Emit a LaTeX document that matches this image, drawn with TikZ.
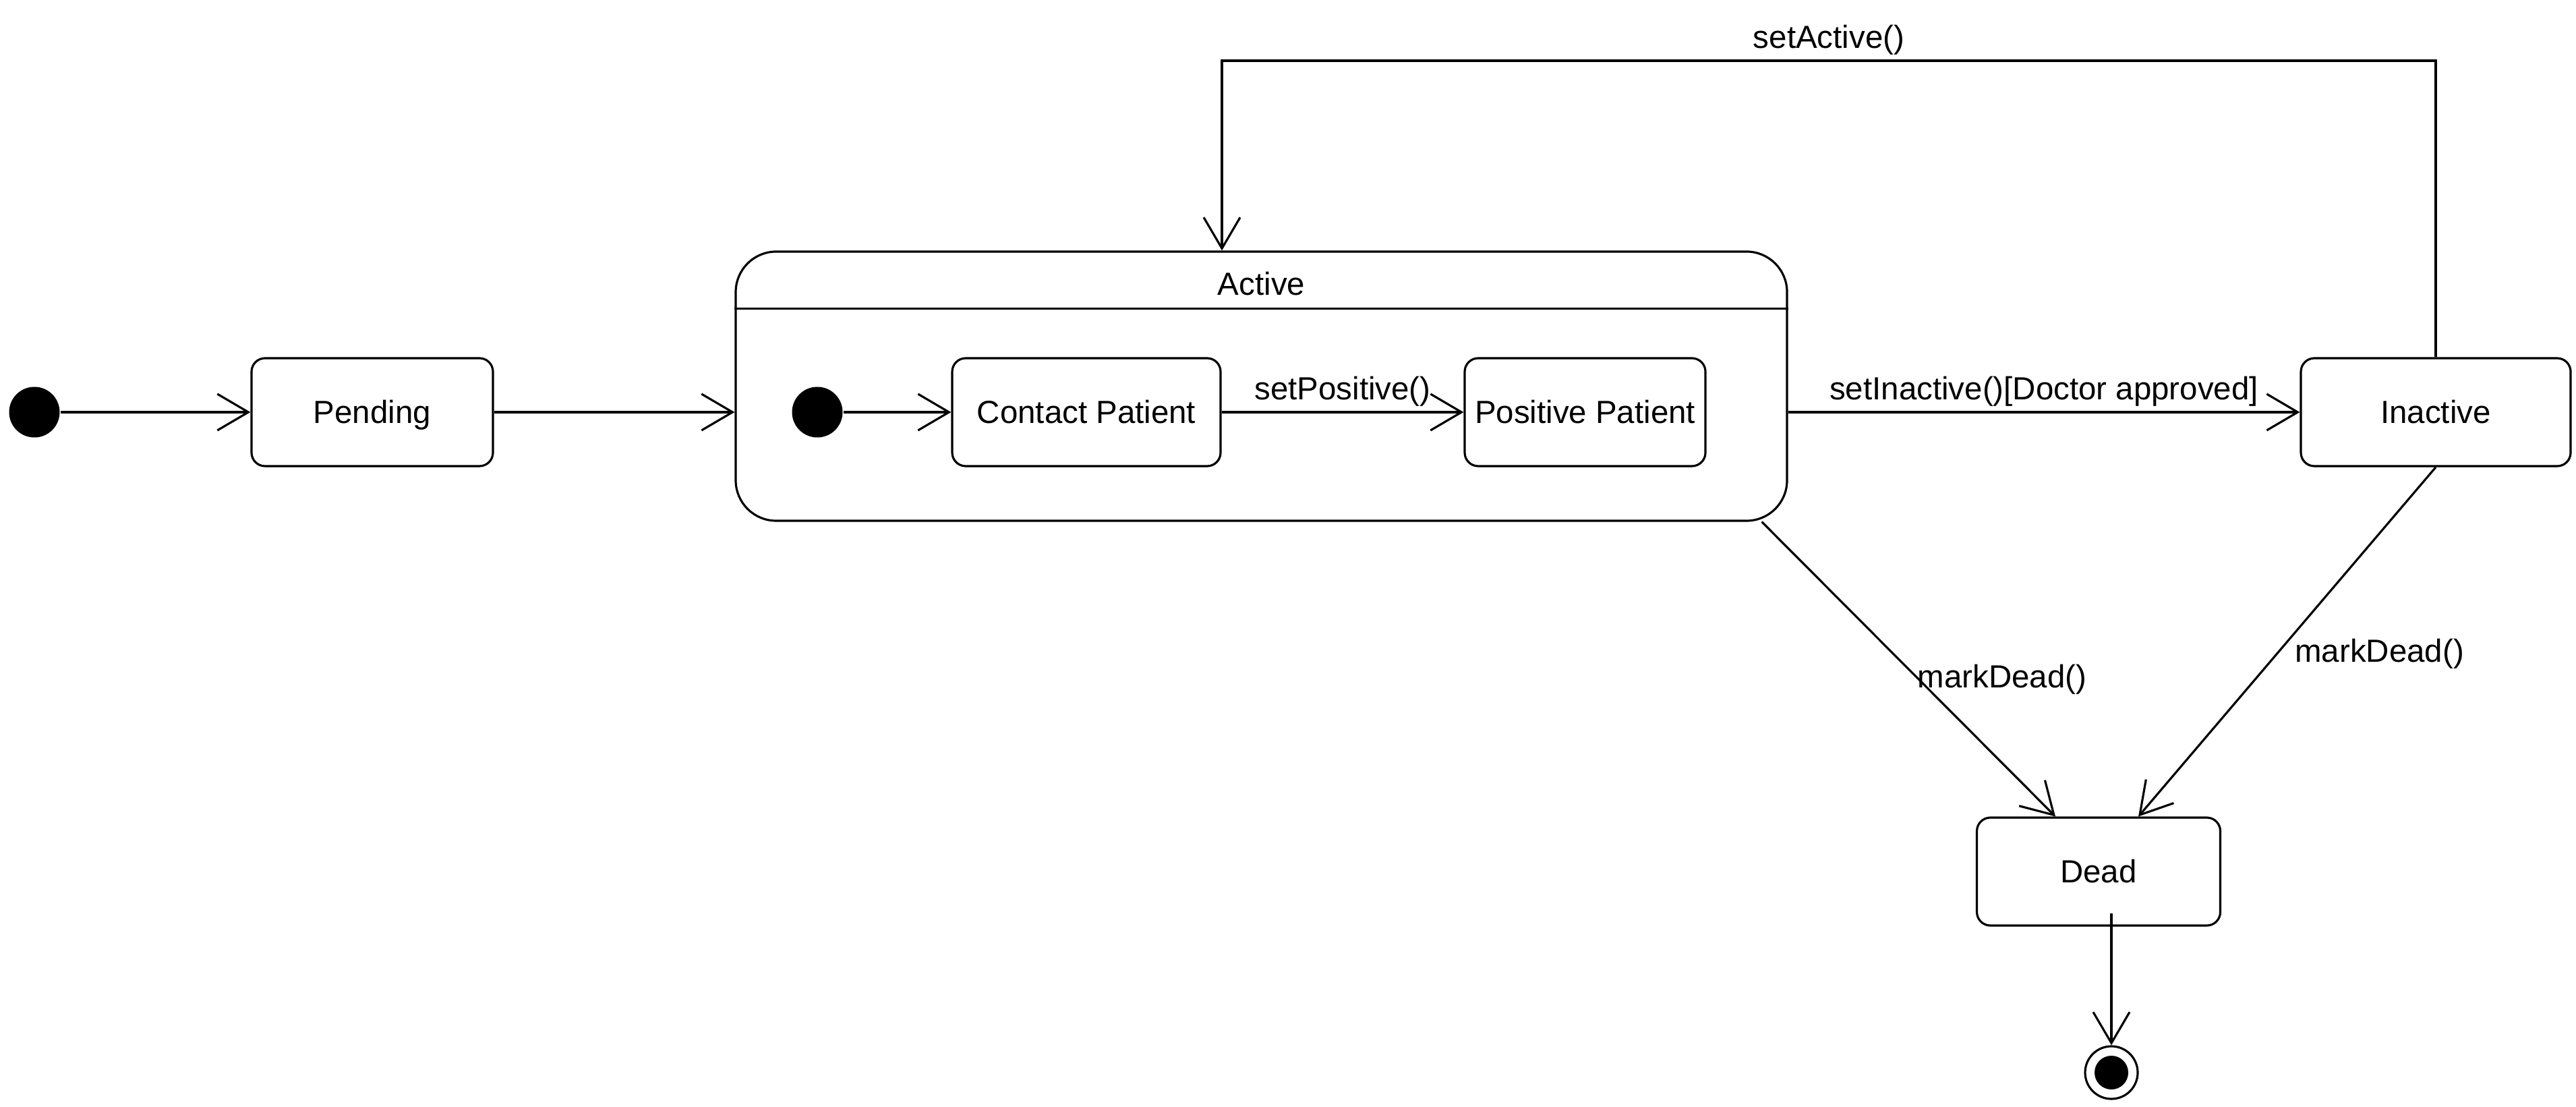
\documentclass[tikz,border=0pt]{standalone}
\usepackage{fontspec}
\setmainfont{Liberation Sans}
\usetikzlibrary{arrows.meta,calc}
\begin{document}
\begin{tikzpicture}[>={Straight Barb[length=0.46cm,width=0.54cm]},
    line width=0.9pt,
    font=\fontsize{13.5}{16}\selectfont,
    state/.style={draw, rounded corners=0.2cm, minimum height=1.6cm, inner sep=0pt, text height=0.92em, text depth=0pt},
    startdot/.style={circle, fill=black, minimum size=0.75cm, inner sep=0pt},
    trans/.style={->},
    lbl/.style={inner sep=2pt}]
    \useasboundingbox (0,0) rectangle (38.2,16.4);
    % states
    \node[startdot] (init) at (0.51,10.29) {};
    \node[state, minimum width=3.58cm] (pending) at (5.52,10.29) {Pending};
    \node[draw, rounded corners=0.6cm, minimum width=15.59cm, minimum height=3.99cm, inner sep=0pt] (active) at (18.705,10.675) {};
    \node[text height=0.92em, text depth=0pt] (activetitle) at ($(active.north)+(0,-0.5)$) {Active};
    \draw ($(active.north west)+(0,-0.86)$) -- ($(active.north east)+(0,-0.86)$);
    \node[startdot] (subinit) at (12.12,10.29) {};
    \node[state, minimum width=3.98cm] (contact) at (16.11,10.29) {Contact Patient};
    \node[state, minimum width=3.57cm] (positive) at (23.505,10.29) {Positive Patient};
    \node[state, minimum width=4.0cm] (inactive) at (36.12,10.29) {Inactive};
    \node[state, minimum width=3.61cm] (dead) at (31.12,3.48) {Dead};
    \node[circle, draw, fill=white, minimum size=0.78cm, inner sep=0pt] (final) at (31.31,0.50) {};
    \node[circle, fill=black, minimum size=0.5cm, inner sep=0pt] (finaldot) at (final) {};
    \coordinate (loop) at (18.12,15.50);
    % transitions
    \draw[trans] (init) -- (pending);
    \draw[trans] (pending.east) -- (pending.east -| active.west);
    \draw[trans] (subinit) -- (contact);
    \draw[trans] (contact) -- (positive) node[lbl, midway, above] {setPositive()};
    \draw[trans] (positive.east -| active.east) -- (inactive.west) node[lbl, midway, above] {setInactive()[Doctor approved]};
    \draw[trans] (inactive.north) -- (inactive.north |- loop) -- node[lbl, above] {setActive()} (loop) -- (loop |- active.north);
    \draw[trans] ($(active.south east)+(-0.39,0)$) -- ($(dead.north)+(-0.64,0)$) node[pos=0.535, anchor=west, xshift=-0.15cm] {markDead()};
    \draw[trans] (inactive.south) -- ($(dead.north)+(0.59,0)$) node[pos=0.535, anchor=west, xshift=0.14cm] {markDead()};
    \draw[trans] ($(dead.south -| final)+(0,0.2)$) -- (final);
\end{tikzpicture}
\end{document}
